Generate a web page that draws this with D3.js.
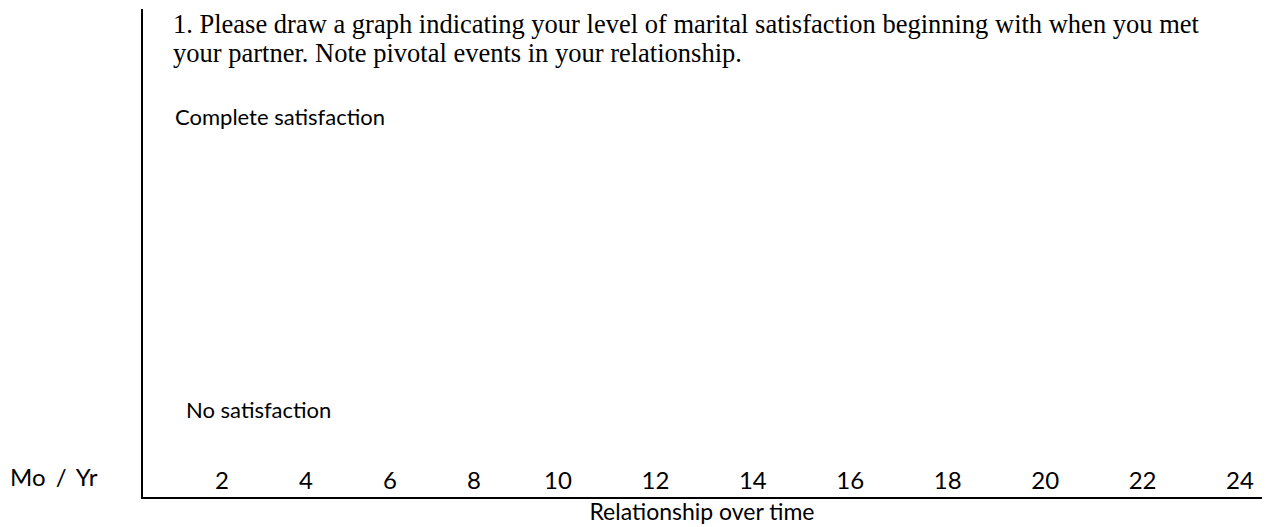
<!DOCTYPE html>
<html>
<head>
<meta charset="utf-8">
<script src="https://cdn.jsdelivr.net/npm/d3@7"></script>
<style>
  body { margin: 0; background: #fff; }
  .sans { font-family: Lato, "Open Sans", sans-serif; fill: #000; }
  .serif { font-family: "Liberation Serif", "DejaVu Serif", serif; fill: #000; }
</style>
</head>
<body>
<svg id="chart"></svg>
<script>
// question text, one entry per line
var titleLines = [
  "1. Please draw a graph indicating your level of marital satisfaction beginning with when you met",
  "your partner. Note pivotal events in your relationship."
];
// months along the bottom
var months = [2, 4, 6, 8, 10, 12, 14, 16, 18, 20, 22, 24];
// satisfaction levels (0 = none, 1 = complete)
var levels = [0, 1];
var levelLabels = ["No satisfaction", "Complete satisfaction"];
var xTitle = "Relationship over time";
var unitLabel = "Mo / Yr";

var width = 1268, height = 527;

var svg = d3.select("#chart")
  .attr("width", width)
  .attr("height", height);

// the tab stops in the original form are not evenly spaced
var x = d3.scaleLinear()
  .domain([2, 10, 24])
  .range([222, 558, 1240]);

var y = d3.scaleLinear()
  .domain([0, 1])
  .range([418, 125]);

// axes lines
svg.append("line")
  .attr("x1", 142).attr("x2", 142)
  .attr("y1", 9).attr("y2", 498)
  .attr("stroke", "#000").attr("stroke-width", 2);

svg.append("line")
  .attr("x1", 141).attr("x2", 1262)
  .attr("y1", 498).attr("y2", 498)
  .attr("stroke", "#000").attr("stroke-width", 2);

// question
svg.append("text")
  .attr("class", "serif")
  .style("font-size", "26.5px")
  .selectAll("tspan")
  .data(titleLines)
  .enter().append("tspan")
  .attr("x", 173)
  .attr("y", function(d, i) { return 33 + i * 29; })
  .text(function(d) { return d; });

// level labels
svg.selectAll(".level")
  .data(levels)
  .enter().append("text")
  .attr("class", "sans level")
  .attr("x", function(d) { return d === 1 ? 175 : 186; })
  .attr("y", function(d) { return y(d); })
  .style("font-size", "22px")
  .text(function(d, i) { return levelLabels[i]; });

// month ticks
svg.selectAll(".month")
  .data(months)
  .enter().append("text")
  .attr("class", "sans month")
  .attr("x", function(d) { return x(d); })
  .attr("y", 489)
  .attr("text-anchor", "middle")
  .style("font-size", "24px")
  .text(function(d) { return d; });

svg.append("text")
  .attr("class", "sans")
  .attr("x", 10)
  .attr("y", 486)
  .style("font-size", "24px")
  .style("word-spacing", "4px")
  .text(unitLabel);

svg.append("text")
  .attr("class", "sans")
  .attr("x", 702)
  .attr("y", 520)
  .attr("text-anchor", "middle")
  .style("font-size", "23px")
  .text(xTitle);
</script>
</body>
</html>
